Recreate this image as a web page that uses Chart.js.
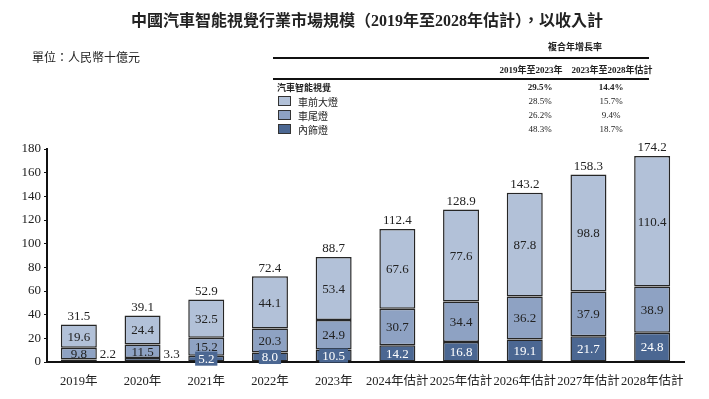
<!DOCTYPE html>
<html>
<head>
<meta charset="utf-8">
<script src="https://cdn.jsdelivr.net/npm/chart.js@4.4.0/dist/chart.umd.min.js"></script>
<style>
  body { margin: 0; background: #fff; }
  #wrap { position: relative; width: 709px; height: 399px; overflow: hidden;
    font-family: "Liberation Serif", "Noto Sans CJK TC", serif; color: #222; }
  #c { position: absolute; left: 0; top: 0; }
  .t { position: absolute; white-space: nowrap; transform: translate(-50%, -50%); }
  .l { position: absolute; white-space: nowrap; transform: translateY(-50%); }
  .rule { position: absolute; height: 2px; background: #111; }
  .sw { position: absolute; width: 13px; height: 10px; border: 1px solid #333; box-sizing: border-box; }
</style>
</head>
<body>
<div id="wrap">
  <canvas id="c" width="709" height="399"></canvas>
  <div class="t" style="left:367px;top:19px;font-size:16px;font-weight:bold;">中國汽車智能視覺行業市場規模（2019年至2028年估計），以收入計</div>
  <div class="l" style="left:32px;top:57px;font-size:12px;">單位：人民幣十億元</div>

  <div class="t" style="left:575px;top:46px;font-size:9px;font-weight:bold;">複合年增長率</div>
  <div class="rule" style="left:273px;top:57px;width:376px;"></div>
  <div class="t" style="left:531px;top:69px;font-size:9px;font-weight:bold;">2019年至2023年</div>
  <div class="t" style="left:612px;top:69px;font-size:9px;font-weight:bold;">2023年至2028年估計</div>
  <div class="rule" style="left:273px;top:78px;width:376px;"></div>

  <div id="rows"></div>
</div>
<script>
var years = ["2019年", "2020年", "2021年", "2022年", "2023年",
  "2024年估計", "2025年估計", "2026年估計", "2027年估計", "2028年估計"];
var interiorLamp = [2.2, 3.3, 5.2, 8.0, 10.5, 14.2, 16.8, 19.1, 21.7, 24.8];
var rearLamp = [9.8, 11.5, 15.2, 20.3, 24.9, 30.7, 34.4, 36.2, 37.9, 38.9];
var headLamp = [19.6, 24.4, 32.5, 44.1, 53.4, 67.6, 77.6, 87.8, 98.8, 110.4];
var totals = [31.5, 39.1, 52.9, 72.4, 88.7, 112.4, 128.9, 143.2, 158.3, 174.2];

// cagr table
var cagrNames = ["汽車智能視覺", "車前大燈", "車尾燈", "內飾燈"];
var cagr1923 = ["29.5%", "28.5%", "26.2%", "48.3%"];
var cagr2328 = ["14.4%", "15.7%", "9.4%", "18.7%"];

var colLight = "#b2c1d8";
var colMid = "#8ea2c3";
var colDark = "#4b6792";
var swatch = [null, colLight, colMid, colDark];

var rows = document.getElementById("rows");
var html = "";
for (var i = 0; i < cagrNames.length; i++) {
  var y = 87 + i * 14;
  var bold = i == 0 ? "font-weight:bold;" : "";
  if (swatch[i]) {
    html += '<div class="sw" style="left:278px;top:' + (y - 5) + 'px;background:' + swatch[i] + ';"></div>';
    html += '<div class="l" style="left:298px;top:' + y + 'px;font-size:10px;">' + cagrNames[i] + '</div>';
  } else {
    html += '<div class="l" style="left:277px;top:' + y + 'px;font-size:9px;' + bold + '">' + cagrNames[i] + '</div>';
  }
  html += '<div class="t" style="left:540px;top:' + y + 'px;font-size:9px;' + bold + '">' + cagr1923[i] + '</div>';
  html += '<div class="t" style="left:611px;top:' + y + 'px;font-size:9px;' + bold + '">' + cagr2328[i] + '</div>';
}
rows.innerHTML = html;

var fontFam = '"Liberation Serif", "Noto Sans CJK TC", serif';

var valueLabels = {
  id: "valueLabels",
  afterDatasetsDraw: function(chart) {
    var ctx = chart.ctx;
    ctx.save();
    ctx.font = "13px " + fontFam;
    ctx.textBaseline = "middle";
    chart.data.datasets.forEach(function(ds, di) {
      var meta = chart.getDatasetMeta(di);
      meta.data.forEach(function(bar, i) {
        var v = ds.data[i];
        var txt = v.toFixed(1);
        var top = bar.y, base = bar.base;
        var cy = (top + base) / 2;
        if (di == 0) {
          if (v < 4) {
            ctx.fillStyle = "#222";
            ctx.textAlign = "left";
            ctx.fillText(txt, bar.x + bar.width / 2 + 3, base - 7);
            return;
          }
          var w = ctx.measureText(txt).width;
          if (base - top < 12) {
            ctx.fillStyle = colDark;
            ctx.fillRect(bar.x - w / 2 - 3, cy - 7, w + 6, 14);
          }
          ctx.fillStyle = "#fff";
        } else {
          ctx.fillStyle = "#222";
        }
        ctx.textAlign = "center";
        ctx.fillText(txt, bar.x, cy + 1);
      });
    });
    // totals above the bars
    var lastMeta = chart.getDatasetMeta(2);
    ctx.fillStyle = "#222";
    ctx.textAlign = "center";
    lastMeta.data.forEach(function(bar, i) {
      ctx.fillText(totals[i].toFixed(1), bar.x, bar.y - 8);
    });
    ctx.restore();
  }
};

new Chart(document.getElementById("c"), {
  type: "bar",
  data: {
    labels: years,
    datasets: [
      { label: "內飾燈", data: interiorLamp, backgroundColor: colDark },
      { label: "車尾燈", data: rearLamp, backgroundColor: colMid },
      { label: "車前大燈", data: headLamp, backgroundColor: colLight }
    ].map(function(d) {
      d.borderColor = "#262626";
      d.borderWidth = 1.5;
      d.borderSkipped = false;
      d.categoryPercentage = 1;
      d.barPercentage = 0.565;
      return d;
    })
  },
  options: {
    responsive: false,
    animation: false,
    devicePixelRatio: 1,
    layout: { padding: { top: 149, right: 25, bottom: 7, left: 0 } },
    plugins: { legend: { display: false }, tooltip: { enabled: false } },
    scales: {
      x: {
        stacked: true,
        grid: { display: false },
        border: { color: "#111", width: 2 },
        ticks: { color: "#222", font: { family: fontFam, size: 12.5 }, maxRotation: 0, autoSkip: false, padding: 4 },
        afterFit: function(s) { s.height = 30; }
      },
      y: {
        stacked: true,
        min: 0,
        max: 180,
        ticks: { stepSize: 20, color: "#222", font: { family: fontFam, size: 13 }, padding: 3 },
        grid: { display: true, drawOnChartArea: false, drawTicks: true, tickLength: 3, color: "#111" },
        border: { color: "#111", width: 2 },
        afterFit: function(s) { s.width = 47; }
      }
    }
  },
  plugins: [valueLabels]
});
</script>
</body>
</html>
